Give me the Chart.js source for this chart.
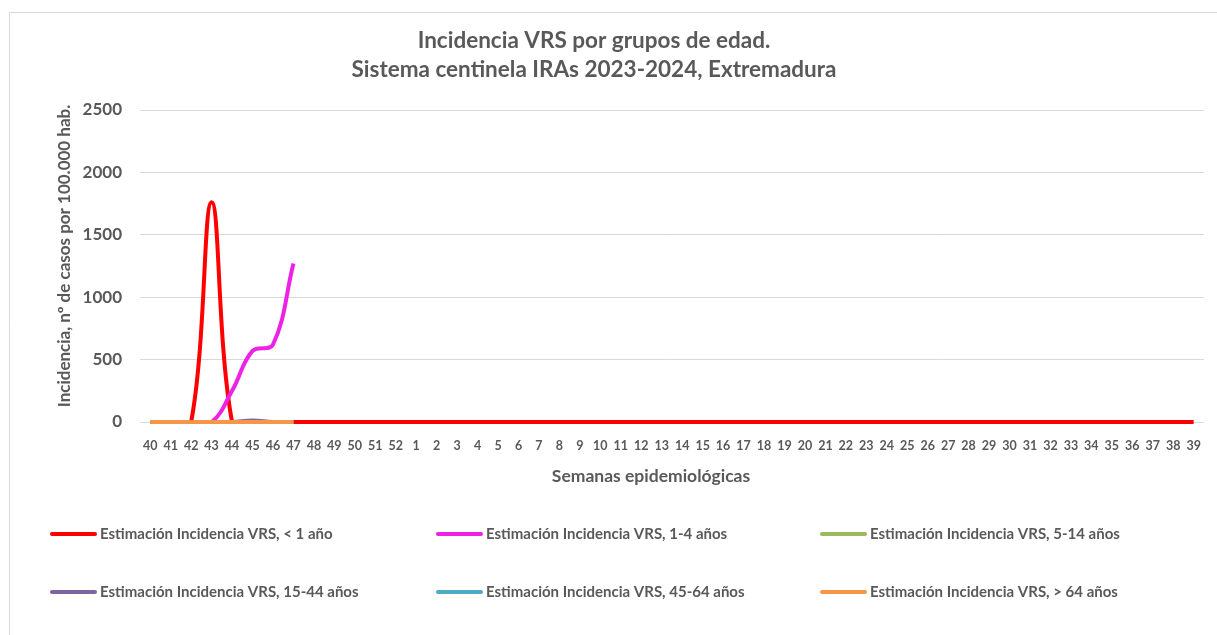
<!DOCTYPE html>
<html><head><meta charset="utf-8">
<script src="https://cdn.jsdelivr.net/npm/chart.js@4.4.1/dist/chart.umd.min.js"></script>
<style>html,body{margin:0;padding:0;background:#fff;}canvas{display:block;}</style>
</head><body>
<canvas id="c" width="1217" height="635"></canvas>
<script>
const weeks = ['40','41','42','43','44','45','46','47','48','49','50','51','52','1','2','3','4','5','6','7','8','9','10','11','12','13','14','15','16','17','18','19','20','21','22','23','24','25','26','27','28','29','30','31','32','33','34','35','36','37','38','39'];
const yTicks = [0, 500, 1000, 1500, 2000, 2500];
const menor1 = [0,0,0,1760,0,0,0,0,0,0,0,0,0,0,0,0,0,0,0,0,0,0,0,0,0,0,0,0,0,0,0,0,0,0,0,0,0,0,0,0,0,0,0,0,0,0,0,0,0,0,0,0];
const de1a4 = [0,0,0,0,250,570,620,1270];
const de5a14 = [0,0,0,0,0,0,0,0];
const de15a44 = [0,0,0,0,0,12,0,0];
const de45a64 = [0,0,0,0,0,0,0,0];
const mas64 = [0,0,0,0,0,0,0,0];
const seriesNames = ['Estimación Incidencia VRS, < 1 año','Estimación Incidencia VRS, 1-4 años','Estimación Incidencia VRS, 5-14 años','Estimación Incidencia VRS, 15-44 años','Estimación Incidencia VRS, 45-64 años','Estimación Incidencia VRS, > 64 años'];
const seriesColors = ['#ff0000','#ee22e6','#9bbb59','#8064a2','#4bacc6','#f79646'];
const titleLines = ['Incidencia VRS por grupos de edad.','Sistema centinela IRAs 2023-2024, Extremadura'];
const xTitle = 'Semanas epidemiológicas';
const yTitle = 'Incidencia, nº de casos por 100.000 hab.';

const FONT = 'Lato, "Open Sans", sans-serif';
const TXT = '#595959';
const allData = [menor1, de1a4, de5a14, de15a44, de45a64, mas64];

const decor = {
  id: 'decor',
  beforeDraw(chart) {
    const ctx = chart.ctx;
    ctx.save();
    ctx.fillStyle = '#fff';
    ctx.fillRect(0, 0, chart.width, chart.height);
    ctx.strokeStyle = '#d9d9d9';
    ctx.lineWidth = 1;
    ctx.beginPath();
    ctx.moveTo(9.5, chart.height + 5);
    ctx.lineTo(9.5, 12.5);
    ctx.lineTo(chart.width + 5, 12.5);
    ctx.stroke();
    ctx.restore();
  },
  afterDraw(chart) {
    const ctx = chart.ctx;
    ctx.save();
    ctx.fillStyle = TXT;
    ctx.textAlign = 'center';
    ctx.textBaseline = 'middle';
    ctx.font = 'bold 22.5px ' + FONT;
    ctx.fillText(titleLines[0], 594, 41);
    ctx.fillText(titleLines[1], 594, 70);
    ctx.font = 'bold 17.5px ' + FONT;
    ctx.fillText(xTitle, 651, 476);
    // y-axis title
    ctx.save();
    ctx.translate(65, 256);
    ctx.rotate(-Math.PI / 2);
    ctx.font = 'bold 17px ' + FONT;
    ctx.fillText(yTitle, 0, 0);
    ctx.restore();
    // legend
    const cols = [50, 436, 820];
    const rows = [534, 592];
    ctx.textAlign = 'left';
    ctx.font = 'bold 15px ' + FONT;
    chart.data.datasets.forEach((ds, i) => {
      const x = cols[i % 3], y = rows[Math.floor(i / 3)];
      ctx.strokeStyle = ds.borderColor;
      ctx.lineWidth = 4;
      ctx.lineCap = 'round';
      ctx.beginPath();
      ctx.moveTo(x + 2, y);
      ctx.lineTo(x + 45, y);
      ctx.stroke();
      ctx.fillStyle = TXT;
      ctx.fillText(ds.label, x + 50, y);
    });
    ctx.restore();
  }
};

new Chart(document.getElementById('c'), {
  type: 'line',
  data: {
    labels: weeks,
    datasets: allData.map((d, i) => ({
      label: seriesNames[i],
      data: d,
      borderColor: seriesColors[i],
      backgroundColor: seriesColors[i],
      borderWidth: 4,
      pointRadius: 0,
      tension: 0.4,
      fill: false,
      clip: { left: 5, right: 5, top: 5, bottom: 2 },
      order: 6 - i
    }))
  },
  options: {
    responsive: false,
    animation: false,
    devicePixelRatio: 1,
    layout: { padding: { top: 110, left: 45, right: 9, bottom: 145 } },
    plugins: { legend: { display: false }, title: { display: false }, tooltip: { enabled: false } },
    scales: {
      x: {
        offset: true,
        grid: { display: false, drawTicks: false },
        border: { display: false },
        ticks: { autoSkip: false, maxRotation: 0, minRotation: 0, padding: 16, color: TXT, font: { family: FONT, size: 12.5, weight: 'bold' } },
        afterFit(s) { s.height = 68; }
      },
      y: {
        min: 0, max: 2500,
        afterBuildTicks(s) { s.ticks = yTicks.map(v => ({ value: v })); },
        grid: { color: '#d9d9d9', lineWidth: 1, drawTicks: false },
        border: { display: false },
        ticks: { padding: 18, color: TXT, font: { family: FONT, size: 17, weight: 'bold' }, callback: v => String(v) },
        title: { display: false },
        afterFit(s) { s.width = 95; }
      }
    }
  },
  plugins: [decor]
});
</script>
</body></html>
